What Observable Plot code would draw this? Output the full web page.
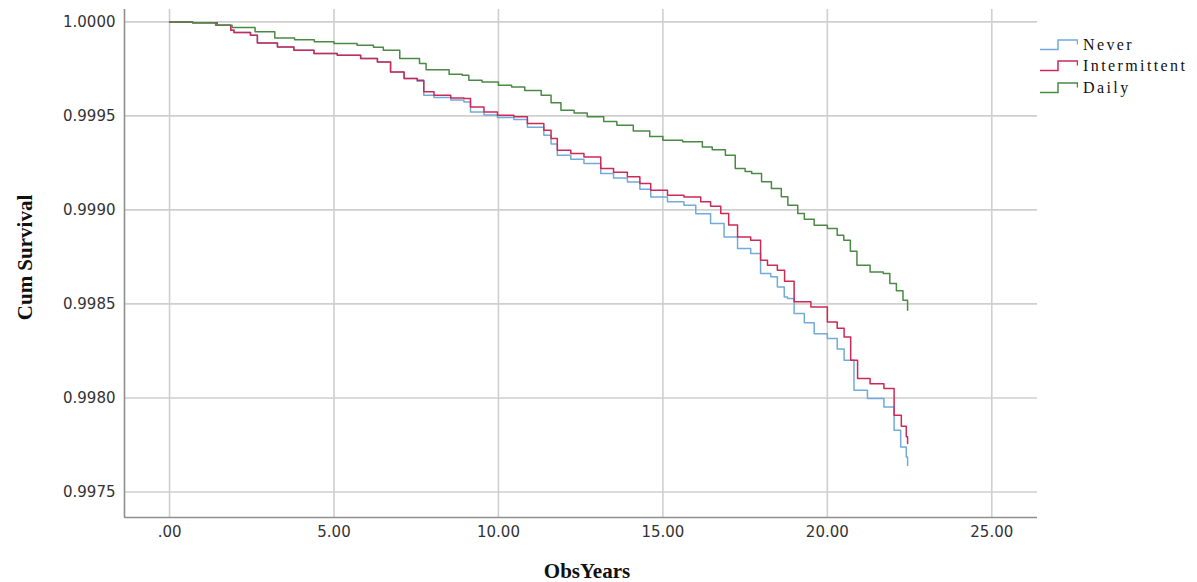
<!DOCTYPE html>
<html><head><meta charset="utf-8">
<script src="https://cdn.jsdelivr.net/npm/d3@7"></script>
<script src="https://cdn.jsdelivr.net/npm/@observablehq/plot@0.6"></script>
<style>
html,body{margin:0;padding:0;background:#fff;}
#wrap{position:relative;width:1197px;height:582px;overflow:hidden;}
#legend{position:absolute;left:1040px;top:34px;font-family:"Liberation Serif",serif;font-size:16px;letter-spacing:2.4px;color:#111;}
.item{height:21.5px;display:flex;align-items:center;white-space:nowrap;}
.item svg{margin-right:5px;flex:none;}
</style></head><body><div id="wrap"></div>
<script>
const groups = ["Never", "Intermittent", "Daily"];
const colors = ["#72abd9", "#cc2a56", "#4a8a44"];

const neverT = [0, 0.7, 1.45, 1.86, 1.96, 2.46, 2.67, 3.28, 3.78, 4.39, 5.1, 5.81, 6.32, 6.72, 7.13, 7.53, 7.73, 8.04, 8.55, 8.95, 9.15, 9.56, 9.97, 10.47, 10.88, 11.38, 11.6, 11.79, 12.2, 12.6, 13.11, 13.5, 13.92, 14.3, 14.63, 15.14, 15.64, 16.0, 16.45, 16.86, 17.27, 17.67, 17.97, 18.28, 18.48, 18.69, 18.79, 18.99, 19.3, 19.6, 20.0, 20.3, 20.51, 20.81, 21.22, 21.72, 22.03, 22.23, 22.4, 22.44];
const neverS = [1.0, 0.999995, 0.999982, 0.999956, 0.999944, 0.999929, 0.999888, 0.999867, 0.999849, 0.999832, 0.999823, 0.999805, 0.999787, 0.999734, 0.999699, 0.999685, 0.99961, 0.999598, 0.999584, 0.999574, 0.999521, 0.999505, 0.999491, 0.999481, 0.99944, 0.999397, 0.99935, 0.999291, 0.99927, 0.999247, 0.999194, 0.99917, 0.999149, 0.99911, 0.999069, 0.999043, 0.999025, 0.99898, 0.998928, 0.998856, 0.998795, 0.998768, 0.998662, 0.998644, 0.99859, 0.998537, 0.998529, 0.998449, 0.9984, 0.998342, 0.998316, 0.99826, 0.9982, 0.998041, 0.997997, 0.997952, 0.997828, 0.997739, 0.997686, 0.99764];

const intermittentT = [0, 0.7, 1.45, 1.86, 1.96, 2.46, 2.67, 3.28, 3.78, 4.39, 5.1, 5.81, 6.32, 6.72, 7.13, 7.53, 7.73, 8.04, 8.55, 8.95, 9.15, 9.56, 9.97, 10.47, 10.88, 11.38, 11.6, 11.79, 12.2, 12.6, 13.11, 13.5, 13.92, 14.3, 14.63, 15.14, 15.64, 16.15, 16.45, 16.76, 17.0, 17.27, 17.67, 17.97, 18.18, 18.48, 18.7, 18.99, 19.5, 20.0, 20.3, 20.51, 20.71, 20.92, 21.3, 21.72, 22.03, 22.25, 22.4, 22.44];
const intermittentS = [1.0, 0.999995, 0.999982, 0.999956, 0.999944, 0.999929, 0.999888, 0.999867, 0.999849, 0.999832, 0.999823, 0.999805, 0.999787, 0.999734, 0.999699, 0.99969, 0.999628, 0.99961, 0.999595, 0.999593, 0.999548, 0.999521, 0.999504, 0.999495, 0.99946, 0.999424, 0.99938, 0.999318, 0.9993, 0.999282, 0.99922, 0.9992, 0.999176, 0.99914, 0.999105, 0.999078, 0.999069, 0.999043, 0.99902, 0.998981, 0.99892, 0.998856, 0.998839, 0.998732, 0.998706, 0.998679, 0.99862, 0.998511, 0.998484, 0.998404, 0.99837, 0.998324, 0.9982, 0.998103, 0.998075, 0.99805, 0.997908, 0.99785, 0.997793, 0.997757];

const dailyT = [0, 0.7, 1.4, 1.9, 2.6, 3.2, 3.8, 4.4, 5.0, 5.7, 6.2, 6.5, 7.0, 7.6, 7.8, 8.5, 8.9, 9.1, 9.5, 10.0, 10.4, 10.8, 11.3, 11.6, 11.9, 12.3, 12.7, 13.2, 13.6, 14.1, 14.6, 15.0, 15.6, 16.2, 16.5, 16.9, 17.2, 17.5, 17.7, 18.0, 18.3, 18.6, 18.8, 19.1, 19.3, 19.6, 20.0, 20.3, 20.5, 20.7, 20.9, 21.3, 21.7, 21.9, 22.1, 22.3, 22.44];
const dailyS = [1.0, 0.999995, 0.999982, 0.99997, 0.999947, 0.999915, 0.999905, 0.999895, 0.999885, 0.999876, 0.999865, 0.999849, 0.999805, 0.999779, 0.999745, 0.999722, 0.999716, 0.99969, 0.99968, 0.999663, 0.999654, 0.999635, 0.99961, 0.99957, 0.99953, 0.999515, 0.999495, 0.99947, 0.999451, 0.99942, 0.99939, 0.999371, 0.999362, 0.999335, 0.99932, 0.999291, 0.99922, 0.999205, 0.999194, 0.99915, 0.999114, 0.99907, 0.999025, 0.998981, 0.99895, 0.998919, 0.998901, 0.998865, 0.998839, 0.99878, 0.998706, 0.99867, 0.998662, 0.998608, 0.99857, 0.998519, 0.998466];

const xTicks = [0, 5, 10, 15, 20, 25];
const yTicks = [0.9975, 0.998, 0.9985, 0.999, 0.9995, 1.0];
const xLabel = "ObsYears";
const yLabel = "Cum Survival";

const xDomain = [-1.37, 26.39];
const yDomain = [0.997364, 1.000066];

const seriesT = [neverT, intermittentT, dailyT];
const seriesS = [neverS, intermittentS, dailyS];
const table = [];
groups.forEach((g, i) => seriesT[i].forEach((t, j) => table.push({group: g, t, s: seriesS[i][j]})));

const xFmt = d => d === 0 ? ".00" : d.toFixed(2);
const yFmt = d3.format(".4f");

const chart = Plot.plot({
  width: 1197,
  height: 582,
  marginLeft: 124,
  marginRight: 160,
  marginTop: 9,
  marginBottom: 65,
  style: {fontFamily: "DejaVu Sans, sans-serif", fontSize: "15px", background: "#fff", color: "#333"},
  x: {domain: xDomain, axis: null},
  y: {domain: yDomain, axis: null},
  color: {domain: groups, range: colors},
  marks: [
    Plot.gridX(xTicks, {stroke: "#cfcfcf", strokeOpacity: 1, strokeWidth: 1.6}),
    Plot.gridY(yTicks, {stroke: "#cfcfcf", strokeOpacity: 1, strokeWidth: 1.6}),
    Plot.ruleX([xDomain[0]], {stroke: "#8f8f8f", strokeWidth: 1.6}),
    Plot.ruleY([yDomain[0]], {stroke: "#8f8f8f", strokeWidth: 1.6}),
    Plot.axisX(xTicks, {tickSize: 0, tickPadding: 9, tickFormat: xFmt, label: null, fill: "#333", fontSize: 15}),
    Plot.axisY(yTicks, {tickSize: 0, tickPadding: 9, tickFormat: yFmt, label: null, fill: "#333", fontSize: 15}),
    Plot.line(table, {x: "t", y: "s", z: "group", stroke: "group", curve: "step-after", strokeWidth: 1.5}),
    Plot.text([xLabel], {frameAnchor: "bottom", text: d => d, dy: 54, dx: 6, textAnchor: "middle", lineAnchor: "middle", fontFamily: "Liberation Serif, serif", fontWeight: "bold", fontSize: 21, fill: "#111"}),
    Plot.text([yLabel], {frameAnchor: "left", text: d => d, rotate: -90, dx: -99, dy: -6, textAnchor: "middle", lineAnchor: "middle", fontFamily: "Liberation Serif, serif", fontWeight: "bold", fontSize: 21, fill: "#111"})
  ]
});

const wrap = document.getElementById("wrap");
wrap.appendChild(chart);

const legend = document.createElement("div");
legend.id = "legend";
groups.forEach((g, i) => {
  const item = document.createElement("div");
  item.className = "item";
  item.innerHTML = `<svg width="38" height="14" viewBox="0 0 38 14"><path d="M0,11.5 H18 V2 H37.5 V6.5" fill="none" stroke="${colors[i]}" stroke-width="1.5"/></svg><span>${g}</span>`;
  legend.appendChild(item);
});
wrap.appendChild(legend);
</script>
</body></html>
